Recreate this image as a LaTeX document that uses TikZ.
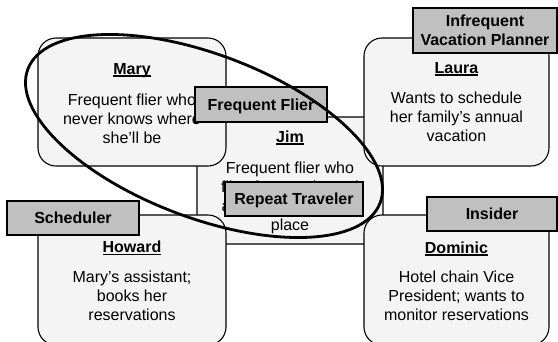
\documentclass[tikz,border=0pt]{standalone}
\usepackage{fontspec}
\setmainfont{Liberation Sans}
\definecolor{boxfill}{HTML}{F4F4F4}
\definecolor{lblfill}{HTML}{C0C0C0}
\newsavebox\nmbox
\newcommand\pname[1]{\sbox\nmbox{\bfseries #1}\usebox\nmbox\llap{\rule[-2.6pt]{\wd\nmbox}{1.3pt}}}
\tikzset{
 pbox/.style={draw=black, line width=1.1pt, fill=boxfill, rounded corners=18pt, inner sep=0pt},
 lbl/.style={draw=black, line width=1.3pt, fill=lblfill, inner sep=0pt, font=\fontsize{16}{18.5}\selectfont\bfseries, align=center},
 one/.style={text height=11.6pt, text depth=0pt},
 txt/.style={inner sep=0pt, font=\fontsize{16}{19.2}\selectfont, align=center, anchor=base},
 grp/.style={line width=2.8pt, draw=black}
}
\begin{document}
\begin{tikzpicture}[x=1pt,y=-1pt]
\useasboundingbox (0,0) rectangle (558,341);
% person boxes
\node[pbox, minimum width=186pt, minimum height=127pt] (jim) at (290,180.5) {};
\node[pbox, minimum width=188pt, minimum height=128pt] (mary) at (132,102) {};
\node[pbox, minimum width=185pt, minimum height=128pt] (laura) at (456.5,102) {};
\node[pbox, minimum width=188pt, minimum height=130pt] (howard) at (132,280) {};
\node[pbox, minimum width=185pt, minimum height=130pt] (dominic) at (456.5,280) {};
% texts (base anchor = baseline of the last line)
\node[txt] (maryname) at (132,74) {\pname{Mary}};
\node[txt] (marytext) at (132,143.4) {Frequent flier who\\never knows where\\she’ll be};
\node[txt] (lauraname) at (456.5,73) {\pname{Laura}};
\node[txt] (lauratext) at (456.5,141.6) {Wants to schedule\\her family’s annual\\vacation};
\node[txt] (jimname) at (290,142) {\pname{Jim}};
\node[txt] (jimtext) at (290,230.6) {Frequent flier who\\flies frequently, and\\always to the same\\place};
\node[txt] (howardname) at (132,252.5) {\pname{Howard}};
\node[txt] (howardtext) at (132,320.4) {Mary’s assistant;\\books her\\reservations};
\node[txt] (dominicname) at (456.5,253) {\pname{Dominic}};
\node[txt] (dominictext) at (456.5,320.4) {Hotel chain Vice\\President; wants to\\monitor reservations};
% role labels
\node[lbl, one, minimum width=132pt, minimum height=35pt] (ff) at (261,104.5) {Frequent Flier};
\node[lbl, one, minimum width=138pt, minimum height=34pt] (rt) at (294,199) {Repeat Traveler};
\node[lbl, one, minimum width=132pt, minimum height=34pt] (sch) at (73,218) {Scheduler};
\node[lbl, one, minimum width=130pt, minimum height=34pt] (ins) at (492,214) {Insider};
\node[lbl, minimum width=144pt, minimum height=45pt] (ivp) at (485,30.5) {Infrequent\\Vacation Planner};
% grouping ellipse
\coordinate (ec) at (204,136);
\draw[grp, rotate around={-20.8:(ec)}] (ec) ellipse [x radius=188.4, y radius=81.7];
\end{tikzpicture}
\end{document}
